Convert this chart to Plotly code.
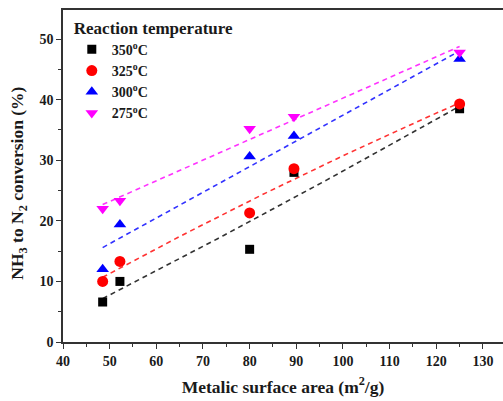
import numpy as np
import plotly.graph_objects as go

# Metallic surface area (m2/g) of the catalysts
surface_area = [48.5, 52.2, 80.0, 89.5, 125.0]

# NH3 -> N2 conversion (%) at each reaction temperature
conv_350 = [6.6, 10.0, 15.3, 28.0, 38.5]
conv_325 = [10.0, 13.3, 21.3, 28.6, 39.3]
conv_300 = [12.0, 19.4, 30.6, 34.0, 46.7]
conv_275 = [22.0, 23.3, 35.2, 37.2, 47.8]

series_names = ["350<sup>o</sup>C", "325<sup>o</sup>C", "300<sup>o</sup>C", "275<sup>o</sup>C"]
series_values = [conv_350, conv_325, conv_300, conv_275]
fit_degree = [2, 2, 1, 1]
colors = ["#000000", "#ff0000", "#0000ff", "#ff00ff"]
symbols = ["square", "circle", "triangle-up", "triangle-down"]
sizes = [9, 11, 11, 11]

FONT = "Liberation Serif"
INK = "#1a1a1a"

fig = go.Figure()

x = np.array(surface_area)
xfit = np.linspace(x.min(), x.max(), 60)

# dashed least-squares trend line for each temperature
for vals, col, deg in zip(series_values, colors, fit_degree):
    coef = np.polyfit(x, np.array(vals), deg)
    fig.add_trace(go.Scatter(
        x=xfit, y=np.polyval(coef, xfit), mode="lines",
        line=dict(color=col, width=1.6, dash="5px,4px"),
        opacity=0.8, showlegend=False, hoverinfo="skip",
    ))

for name, vals, col, sym, sz in zip(series_names, series_values, colors, symbols, sizes):
    fig.add_trace(go.Scatter(
        x=surface_area, y=vals, mode="markers", name=name,
        marker=dict(symbol=sym, color=col, size=sz, line=dict(width=0)),
    ))

axis_common = dict(
    showgrid=False, zeroline=False, showline=True, linecolor="#333333", linewidth=1.5,
    ticks="outside", ticklen=5, tickwidth=1.2, tickcolor="#333333",
    tickfont=dict(family=FONT, size=14, color=INK, weight="bold"),
    minor=dict(ticks="outside", ticklen=3, tickwidth=1.2, tickcolor="#333333", dtick=5),
)

fig.update_layout(
    width=503, height=401,
    margin=dict(l=63, r=0, t=10, b=59),
    paper_bgcolor="white", plot_bgcolor="white",
    font=dict(family=FONT, color=INK),
    xaxis=dict(
        range=[40, 134.3], dtick=10, tick0=40, mirror=True,
        title=dict(text="Metalic surface area (m<sup>2</sup>/g)", standoff=13,
                   font=dict(family=FONT, size=17.5, color=INK, weight="bold")),
        **axis_common,
    ),
    yaxis=dict(range=[0, 54.8], dtick=10, tick0=0, mirror=False, **axis_common),
    legend=dict(
        x=0.02, y=0.995, xanchor="left", yanchor="top",
        bgcolor="rgba(0,0,0,0)", borderwidth=0,
        title=dict(text="Reaction temperature",
                   font=dict(family=FONT, size=17, color=INK, weight="bold")),
        font=dict(family=FONT, size=14, color=INK, weight="bold"),
        tracegroupgap=0, itemwidth=30,
    ),
    annotations=[dict(
        text="NH<sub>3</sub> to N<sub>2</sub> conversion (%)", textangle=-90,
        xref="paper", yref="paper", x=-0.10, y=0.477,
        xanchor="center", yanchor="middle", showarrow=False,
        font=dict(family=FONT, size=17.5, color=INK, weight="bold"),
    )],
)

fig.write_html("out.html")
